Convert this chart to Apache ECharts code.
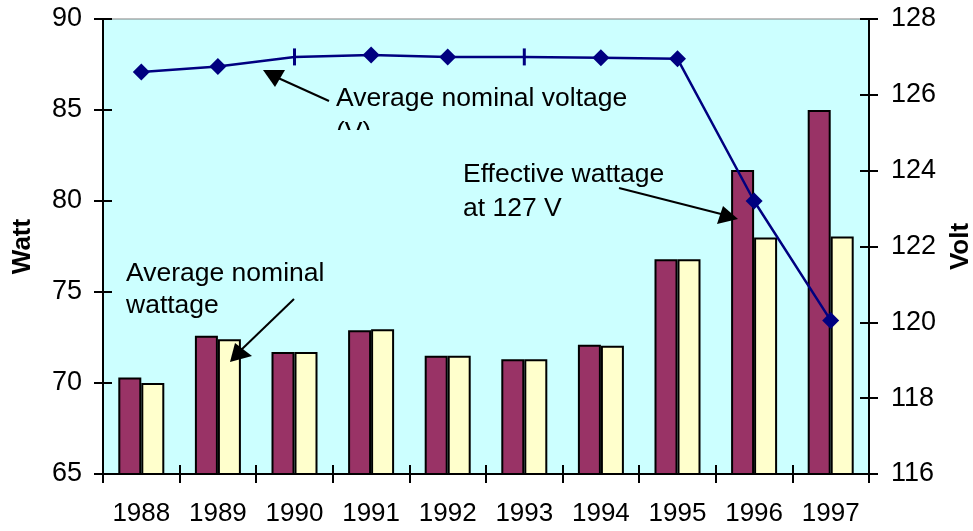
<!DOCTYPE html>
<html>
<head>
<meta charset="utf-8">
<script src="https://cdn.jsdelivr.net/npm/echarts@6/dist/echarts.min.js"></script>
<style>
  html, body { margin: 0; padding: 0; background: #ffffff; }
  #chart { width: 973px; height: 531px; }
</style>
</head>
<body>
<div id="chart"></div>
<script>
// ---- Data ----
const years = ['1988', '1989', '1990', '1991', '1992', '1993', '1994', '1995', '1996', '1997'];
const effectiveWattage = [70.3, 72.6, 71.7, 72.9, 71.5, 71.3, 72.1, 76.8, 81.7, 85.0];
const nominalWattage   = [70.0, 72.4, 71.7, 72.95, 71.5, 71.3, 72.05, 76.8, 78.0, 78.05];
const nominalVoltage   = [126.6, 126.75, 127.0, 127.05, 127.0, 127.0, 126.98, 126.95, 123.2, 120.05];
const wattTicks = { min: 65, max: 90, interval: 5 };
const voltTicks = { min: 116, max: 128, interval: 2 };

// ---- Style ----
const FONT = 'Liberation Sans, Arial, sans-serif';
const dashMarkerYears = ['1990', '1993'];

const chart = echarts.init(document.getElementById('chart'), null, { renderer: 'canvas' });

const lineData = nominalVoltage.map((v, i) => {
  if (dashMarkerYears.indexOf(years[i]) >= 0) {
    return { value: v, symbol: 'rect', symbolSize: [3, 17] };
  }
  return v;
});

function axisBase(t, pos) {
  return {
    type: 'value', position: pos, min: t.min, max: t.max, interval: t.interval,
    splitLine: { show: false }
  };
}

const TXT = '26.5px ' + FONT;

const option = {
  animation: false,
  backgroundColor: '#ffffff',
  grid: {
    left: 103, right: 104, top: 19, bottom: 57,
    containLabel: false, outerBoundsMode: 'none',
    show: true, backgroundColor: '#CCFFFF', borderColor: '#808080', borderWidth: 1
  },
  xAxis: [
    {
      type: 'category', data: years, position: 'bottom',
      axisLine: { lineStyle: { color: '#000', width: 2 } },
      axisTick: { show: true, length: 9, lineStyle: { color: '#000', width: 2 } },
      axisLabel: { color: '#000', fontSize: 26, fontFamily: FONT, margin: 27, interval: 0, hideOverlap: false }
    },
    {
      type: 'category', data: years, position: 'bottom',
      axisLine: { show: false },
      axisTick: { show: true, inside: true, length: 9, lineStyle: { color: '#000', width: 2 } },
      axisLabel: { show: false }
    }
  ],
  yAxis: [
    Object.assign(axisBase(wattTicks, 'left'), {
      name: 'Watt', nameLocation: 'middle', nameGap: 67, nameRotate: 90,
      nameTextStyle: { color: '#000', fontSize: 26, fontWeight: 'bold', fontFamily: FONT },
      axisLine: { show: true, lineStyle: { color: '#000', width: 2 } },
      axisTick: { show: true, length: 9, lineStyle: { color: '#000', width: 2 } },
      axisLabel: { color: '#000', fontSize: 27, fontFamily: FONT, margin: 21 }
    }),
    Object.assign(axisBase(wattTicks, 'left'), {
      axisLine: { show: false },
      axisTick: { show: true, inside: true, length: 9, lineStyle: { color: '#000', width: 2 } },
      axisLabel: { show: false }
    }),
    Object.assign(axisBase(voltTicks, 'right'), {
      name: 'Volt', nameLocation: 'middle', nameGap: 79, nameRotate: 90,
      nameTextStyle: { color: '#000', fontSize: 26, fontWeight: 'bold', fontFamily: FONT },
      axisLine: { show: true, lineStyle: { color: '#000', width: 2 } },
      axisTick: { show: true, length: 9, lineStyle: { color: '#000', width: 2 } },
      axisLabel: { color: '#000', fontSize: 27, fontFamily: FONT, margin: 22 }
    }),
    Object.assign(axisBase(voltTicks, 'right'), {
      axisLine: { show: false },
      axisTick: { show: true, inside: true, length: 9, lineStyle: { color: '#000', width: 2 } },
      axisLabel: { show: false }
    })
  ],
  series: [
    {
      name: 'Effective wattage at 127 V', type: 'bar', xAxisIndex: 0, yAxisIndex: 0,
      data: effectiveWattage, barWidth: 23, barGap: '0%',
      itemStyle: { color: '#993366', borderColor: '#000', borderWidth: 2 }
    },
    {
      name: 'Average nominal wattage', type: 'bar', xAxisIndex: 0, yAxisIndex: 0,
      data: nominalWattage, barWidth: 23, barGap: '0%',
      itemStyle: { color: '#FFFFCC', borderColor: '#000', borderWidth: 2 }
    },
    {
      name: 'Average nominal voltage (V)', type: 'line', xAxisIndex: 0, yAxisIndex: 2,
      data: lineData, symbol: 'diamond', symbolSize: 17, showSymbol: true,
      lineStyle: { color: '#000080', width: 2.5 },
      itemStyle: { color: '#000080' }, z: 5
    }
  ],
  graphic: [
    // Annotation texts
    { type: 'text', z: 10, style: { text: 'Average nominal voltage', x: 336, y: 99, font: TXT, fill: '#000', textVerticalAlign: 'middle' } },
    { type: 'text', z: 10, style: { text: '(V)', x: 336, y: 133, font: TXT, fill: '#000', textVerticalAlign: 'middle' } },
    { type: 'rect', z: 11, shape: { x: 330, y: 130, width: 70, height: 30 }, style: { fill: '#CCFFFF' } },
    { type: 'text', z: 10, style: { text: 'Effective wattage', x: 463, y: 175, font: TXT, fill: '#000', textVerticalAlign: 'middle' } },
    { type: 'text', z: 10, style: { text: 'at 127 V', x: 463, y: 209, font: TXT, fill: '#000', textVerticalAlign: 'middle' } },
    { type: 'text', z: 10, style: { text: 'Average nominal', x: 126, y: 274, font: TXT, fill: '#000', textVerticalAlign: 'middle' } },
    { type: 'text', z: 10, style: { text: 'wattage', x: 126, y: 306, font: TXT, fill: '#000', textVerticalAlign: 'middle' } },
    // Arrows
    { type: 'line', z: 10, shape: { x1: 329, y1: 101, x2: 276, y2: 77 }, style: { stroke: '#000', lineWidth: 2 } },
    { type: 'polygon', z: 10, shape: { points: [[263, 70], [285, 70], [275, 87]] }, style: { fill: '#000' } },
    { type: 'line', z: 10, shape: { x1: 294, y1: 299, x2: 240, y2: 351 }, style: { stroke: '#000', lineWidth: 2 } },
    { type: 'polygon', z: 10, shape: { points: [[230, 362], [235, 343], [252, 356]] }, style: { fill: '#000' } },
    { type: 'line', z: 10, shape: { x1: 619, y1: 188, x2: 725, y2: 215 }, style: { stroke: '#000', lineWidth: 2 } },
    { type: 'polygon', z: 10, shape: { points: [[738, 219], [723, 206], [717, 224]] }, style: { fill: '#000' } }
  ]
};

chart.setOption(option);
</script>
</body>
</html>
